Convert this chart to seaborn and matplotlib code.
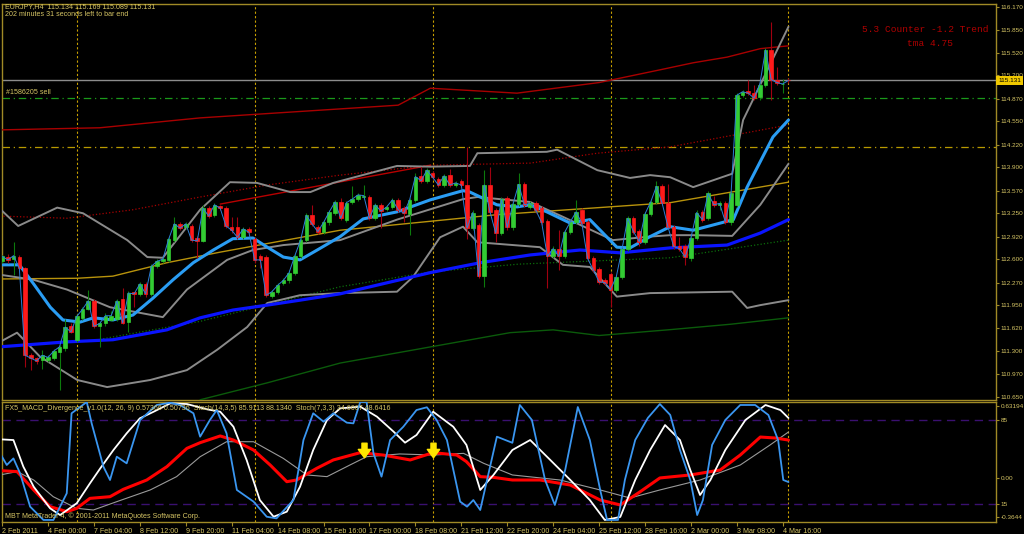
import seaborn as sns
import matplotlib.pyplot as plt
import matplotlib.path as mpath
import pandas as pd
import numpy as np

# EURJPY H4, bar 0 = 2 Feb 16:00, bar 137 = 4 Mar 20:00 (current bar)
bar_open = [112.58, 112.63, 112.60, 112.63, 112.47, 111.24, 111.20, 111.18, 111.18, 111.20,
            111.29, 111.34, 111.66, 111.46, 111.77, 111.90, 112.01, 111.65, 111.69, 111.74,
            111.76, 112.04, 111.71, 112.13, 112.11, 112.25, 112.11, 112.50, 112.57, 112.59,
            112.87, 113.10, 113.05, 113.07, 112.90, 112.86, 113.32, 113.23, 113.35, 113.32,
            113.06, 113.05, 112.91, 113.03, 112.88, 112.64, 112.63, 112.08, 112.14, 112.26,
            112.30, 112.41, 112.65, 112.87, 113.22, 113.05, 112.99, 113.12, 113.25, 113.41,
            113.16, 113.41, 113.45, 113.48, 113.48, 113.19, 113.37, 113.31, 113.34, 113.44,
            113.32, 113.24, 113.44, 113.78, 113.71, 113.82, 113.74, 113.65, 113.79, 113.65,
            113.70, 113.65, 113.04, 113.08, 112.36, 113.65, 113.30, 112.97, 113.46, 113.05,
            113.38, 113.66, 113.34, 113.39, 113.32, 113.14, 112.64, 112.75, 112.64, 112.98,
            113.13, 113.30, 113.13, 112.62, 112.46, 112.31, 112.39, 112.17, 112.35, 112.74,
            113.18, 113.00, 112.85, 113.24, 113.41, 113.63, 113.39, 113.06, 112.79, 112.78,
            112.61, 112.90, 113.27, 113.18, 113.42, 113.37, 113.39, 113.12, 113.37, 114.92,
            114.98, 114.95, 114.89, 115.07, 115.56, 115.14, 115.08, 115.134]
bar_high = [112.66, 112.68, 112.85, 112.66, 112.49, 111.27, 111.22, 111.31, 111.24, 111.33,
            111.38, 111.75, 111.69, 111.83, 111.92, 112.16, 112.04, 111.72, 111.84, 111.86,
            112.04, 112.19, 112.15, 112.14, 112.28, 112.28, 112.53, 112.60, 112.63, 112.91,
            113.20, 113.13, 113.12, 113.10, 112.93, 113.36, 113.35, 113.40, 113.37, 113.35,
            113.20, 113.20, 113.06, 113.06, 112.92, 112.67, 112.66, 112.17, 112.26, 112.33,
            112.44, 112.68, 112.90, 113.25, 113.37, 113.08, 113.15, 113.30, 113.44, 113.46,
            113.43, 113.63, 113.54, 113.65, 113.51, 113.40, 113.40, 113.37, 113.47, 113.47,
            113.35, 113.47, 113.82, 113.91, 113.89, 113.85, 113.77, 113.81, 113.87, 113.71,
            113.73, 114.19, 113.29, 113.11, 113.86, 113.91, 113.33, 113.48, 113.49, 113.41,
            113.82, 113.69, 113.42, 113.42, 113.35, 113.17, 112.78, 113.01, 113.01, 113.16,
            113.44, 113.33, 113.16, 112.65, 112.49, 112.34, 112.42, 112.38, 112.77, 113.21,
            113.21, 113.03, 113.27, 113.44, 113.70, 113.66, 113.67, 113.09, 112.92, 112.81,
            112.93, 113.29, 113.30, 113.56, 113.50, 113.42, 113.42, 113.56, 114.95, 115.00,
            115.14, 115.06, 115.10, 115.59, 115.96, 115.32, 115.15, 115.169]
bar_low = [112.55, 112.54, 112.38, 112.44, 111.08, 111.03, 111.12, 111.05, 111.15, 111.17,
           110.75, 111.30, 111.55, 111.43, 111.74, 111.88, 111.62, 111.36, 111.66, 111.72,
           111.73, 111.68, 111.57, 111.93, 112.08, 112.06, 112.08, 112.47, 112.54, 112.56,
           112.85, 113.01, 113.03, 112.85, 112.61, 112.84, 113.18, 113.20, 113.30, 113.04,
           112.97, 112.88, 112.88, 112.95, 112.55, 112.47, 112.06, 112.05, 112.11, 112.23,
           112.27, 112.38, 112.62, 112.84, 113.07, 112.96, 112.96, 113.09, 113.22, 113.15,
           113.13, 113.38, 113.42, 113.45, 113.15, 113.16, 113.04, 113.28, 113.31, 113.27,
           113.13, 112.94, 113.41, 113.68, 113.68, 113.73, 113.62, 113.62, 113.62, 113.62,
           113.62, 112.88, 113.01, 112.33, 112.21, 113.24, 112.85, 112.94, 113.02, 113.02,
           113.35, 113.34, 113.31, 113.26, 113.09, 112.19, 112.61, 112.45, 112.61, 112.95,
           113.10, 113.08, 112.58, 112.42, 112.25, 112.24, 111.93, 112.14, 112.32, 112.71,
           112.96, 112.78, 112.82, 113.21, 113.38, 113.36, 113.03, 112.75, 112.72, 112.52,
           112.58, 112.87, 113.13, 113.15, 113.34, 113.30, 113.10, 113.09, 113.34, 114.89,
           114.92, 114.85, 114.86, 115.04, 114.85, 115.07, 114.95, 115.089]
bar_close = [112.64, 112.59, 112.65, 112.47, 111.24, 111.20, 111.16, 111.24, 111.21, 111.30,
             111.36, 111.64, 111.57, 111.79, 111.89, 112.01, 111.65, 111.69, 111.80, 111.80,
             112.01, 111.70, 112.12, 112.11, 112.25, 112.11, 112.50, 112.57, 112.60, 112.88,
             113.10, 113.04, 113.10, 112.87, 112.86, 113.32, 113.21, 113.37, 113.32, 113.07,
             113.01, 112.91, 113.03, 112.98, 112.59, 112.59, 112.09, 112.14, 112.23, 112.30,
             112.41, 112.65, 112.87, 113.22, 113.10, 112.99, 113.12, 113.27, 113.41, 113.18,
             113.40, 113.45, 113.51, 113.50, 113.18, 113.37, 113.28, 113.34, 113.44, 113.30,
             113.25, 113.44, 113.77, 113.71, 113.86, 113.76, 113.65, 113.78, 113.65, 113.68,
             113.65, 113.04, 113.26, 112.36, 113.65, 113.27, 112.97, 113.45, 113.05, 113.38,
             113.66, 113.37, 113.39, 113.29, 113.12, 112.64, 112.75, 112.64, 112.98, 113.13,
             113.27, 113.11, 112.61, 112.45, 112.28, 112.27, 112.17, 112.35, 112.74, 113.18,
             112.99, 112.85, 113.24, 113.41, 113.63, 113.39, 113.06, 112.78, 112.75, 112.63,
             112.90, 113.26, 113.16, 113.53, 113.37, 113.39, 113.13, 113.53, 114.92, 114.97,
             114.95, 114.88, 115.07, 115.56, 115.14, 115.10, 115.08, 115.131]

# overlay lines: (bar, price) vertices
fast_ma_bar = [0, 3, 5.4, 8.4, 10.6, 13.6, 15.9, 19.3, 22.8, 26.3, 29.8, 33.3, 36.8, 40.2, 43.7,
               46.2, 49, 51.9, 54.9, 58.9, 62.9, 68.8, 74.6, 80.3, 81.5, 86.2, 89.7, 92, 94.9, 99,
               102.4, 107.1, 109.4, 112.9, 116.4, 120.4, 127.4, 129.8, 134.3, 137]
fast_ma_val = [112.52, 112.52, 112.26, 111.92, 111.74, 111.71, 111.77, 111.74, 111.81, 112.05,
               112.31, 112.55, 112.73, 112.89, 112.90, 112.77, 112.63, 112.59, 112.73, 112.92,
               113.17, 113.27, 113.44, 113.57, 113.55, 113.37, 113.34, 113.37, 113.27, 113.11,
               113.16, 112.77, 112.76, 112.92, 113.06, 113.01, 113.16, 113.62, 114.33, 114.57]
slow_ma_bar = [-0.35, 11.3, 19.3, 28.7, 34.5, 40.2, 46.2, 51.9, 58.9, 74.6, 83.3, 92, 100.7,
               107.7, 116.4, 126.3, 132.1, 137]
slow_ma_val = [111.36, 111.43, 111.46, 111.60, 111.77, 111.88, 111.95, 112.02, 112.11, 112.41,
               112.55, 112.66, 112.73, 112.69, 112.76, 112.80, 112.97, 113.16]
bb_up_bar = [-0.35, 2.8, 9.6, 14.1, 21.8, 25.3, 28, 34.5, 39.7, 44.4, 50.2, 53.7, 57.7, 68.8,
             74.6, 81.5, 82.8, 94.9, 96.7, 103.7, 109.4, 112.9, 116.4, 120.4, 127.2, 129.1, 137]
bb_up_val = [113.31, 113.07, 113.33, 113.25, 112.87, 112.63, 112.62, 113.30, 113.69, 113.68,
             113.55, 113.55, 113.68, 113.92, 113.91, 113.92, 114.10, 114.12, 114.15, 113.86,
             113.75, 113.79, 113.76, 113.62, 113.81, 114.57, 115.89]
bb_mid_bar = [-0.35, 5.4, 11.3, 18.8, 28, 32.2, 39.2, 43.7, 49, 58.9, 68.8, 80.3, 82.8, 92,
              97.7, 106.4, 112.9, 116.4, 120.4, 127.2, 132.1, 137]
bb_mid_val = [112.38, 112.31, 112.17, 111.92, 111.78, 112.17, 112.59, 112.73, 112.80, 112.87,
              113.16, 113.45, 113.48, 113.41, 113.20, 112.87, 112.92, 112.94, 112.94, 112.93,
              113.37, 113.95]
bb_low_bar = [-0.35, 2.6, 6.6, 13.1, 18.3, 25.8, 32.2, 37.5, 42.7, 46.2, 51.9, 58.9, 68.8, 71.6,
              76.3, 80.3, 82.8, 93.7, 97.7, 102.4, 107.1, 112.9, 127.2, 129.8, 132.1, 137]
bb_low_val = [111.43, 111.56, 111.22, 110.89, 110.79, 110.89, 111.03, 111.32, 111.64, 111.98,
              112.09, 112.12, 112.14, 112.35, 112.91, 113.06, 112.84, 112.77, 112.52, 112.49,
              112.07, 112.12, 112.14, 111.91, 111.95, 112.02]
tma_mid_bar = [-0.35, 13.1, 19.3, 28.7, 38, 58.9, 86.2, 116.4, 137]
tma_mid_val = [112.32, 112.33, 112.36, 112.55, 112.70, 113.01, 113.23, 113.40, 113.69]
tma_up_bar = [-0.35, 17, 34.5, 69, 74.6, 89.7, 104, 114.6, 120.4, 126.3, 132.1, 137]
tma_up_val = [114.43, 114.46, 114.60, 114.78, 115.02, 114.95, 115.10, 115.28, 115.38, 115.46,
              115.58, 115.62]
tma_in_up_bar = [-0.35, 11.3, 22.8, 34.5, 46.2, 58.9, 74.6, 92, 103.7, 116.4, 137]
tma_in_up_val = [113.21, 113.18, 113.30, 113.48, 113.65, 113.79, 113.93, 113.96, 114.10, 114.19,
                 114.50]
tma_in_low_bar = [15.9, 34.5, 58.9, 74.6, 90, 116.4, 137]
tma_in_low_val = [111.45, 111.72, 112.21, 112.42, 112.53, 112.62, 112.87]
tma_low_bar = [34.5, 46.2, 58.9, 88.5, 96, 104, 116, 127, 137]
tma_low_val = [110.61, 110.85, 111.13, 111.56, 111.60, 111.52, 111.60, 111.68, 111.77]
trend_bar = [38, 74.6]
trend_val = [113.38, 113.93]

bid_price = 115.131
order_price = 114.88
level_price = 114.19
separator_bars = [13, 44, 75, 106, 137]

# oscillator window (0..100 scale)
stoch7_bar = [-0.35, 0.81, 1.97, 3.13, 4.88, 7.2, 8.94, 11.26, 12.1, 14.75, 15.6, 17.65, 18.8,
              19.98, 21.7, 24.04, 26.94, 29.27, 31.0, 33.33, 34.5, 36.2, 37.4, 39.1, 40.9, 43.8,
              46.1, 47.8, 50.75, 52.5, 54.2, 56, 57.7, 60.05, 61.2, 62.4, 63.5, 64.7, 66.1, 67.6,
              69.9, 72.2, 74, 75.7, 77.5, 79.8, 81, 82.1, 83.3, 86.2, 88.9, 90.2, 92.3, 94.6,
              96.3, 98.1, 100.3, 102.4, 104.2, 105.4, 107.3, 108.5, 110.3, 112.5, 114.6, 116.4,
              118.1, 119.9, 121.1, 122.1, 123.7, 126, 128.6, 131.2, 133.5, 135.2, 136.1, 137]
stoch7_val = [57.2, 47.5, 53, 40.6, 12.8, 1.7, 1.7, 23.9, 90.6, 100, 82.2, 46.1, 35,
              54.4, 48.9, 85, 97.5, 99.4, 97.5, 90.6, 71.1, 85, 93.3, 73.9, 26.7, 17,
              4.4, 3, 18.3, 68.3, 90.6, 83.6, 90.6, 82.8, 82.2, 100, 100, 57.2, 37.8, 68.3,
              79.4, 93.3, 95.6, 85, 68.3, 17, 12.8, 18.3, 10, 71.1, 66, 97.5, 85, 35,
              14.2, 43.3, 95.8, 68.3, 26.7, 1.7, 1.7, 35, 68.3, 86.7, 98.3, 89.2,
              60, 35, 5.8, 18.3, 64.2, 85, 97.5, 97.5, 89.2, 68.3, 35, 33.3]
stoch14_bar = [-0.35, 1.97, 3.7, 5.5, 8.36, 10.1, 13, 15.3, 17.1, 19.4, 21.7, 24, 26.4, 29.3,
               32.2, 35.7, 38, 40.3, 42.6, 44.9, 47.3, 49.6, 51.9, 54.2, 56.6, 58.9, 62.4, 65.3,
               68.2, 70.2, 72.2, 75.1, 78.6, 80.9, 83.3, 85.6, 88.9, 92, 95.5, 99, 102.4, 105,
               107.7, 110.3, 112.9, 115.5, 118.1, 119.9, 121.6, 123.4, 126, 129.5, 133, 135.6, 137]
stoch14_val = [68.9, 68.3, 46.1, 29.4, 11.4, 5.8, 15.6, 32.2, 44.7, 60, 73.9, 86.4, 91.9, 98.9,
               98.3, 93.9, 91.9, 79.4, 51.7, 18.3, 4.4, 8.6, 29.4, 60, 85, 94.7, 96.1, 87.8,
               75.3, 66.1, 72.5, 91.9, 79.4, 64.2, 26.7, 39.2, 60, 68.3, 51.7, 35, 18.3, 1.7,
               4.2, 35, 60, 80.8, 68.3, 43.3, 22.5, 35, 60, 85, 97.5, 93.3, 86.7]
macd_bar = [-0.35, 2.6, 5.5, 8.36, 11.3, 13, 15.3, 18.8, 21.1, 25.2, 28.7, 32.2, 34.5, 38, 40.3,
            43.8, 46.7, 49.6, 51.3, 54.8, 57.7, 62.4, 66.4, 71.1, 75.1, 79.2, 80.9, 83.3, 85.6,
            88.9, 93.7, 99, 104.2, 107.7, 111.1, 114.6, 119.9, 125.1, 128.6, 132.1, 134.7, 137]
macd_val = [42.8, 42, 26.7, 12.8, 8.6, 11.4, 19.7, 21.1, 27.2, 35, 46.1, 61.4, 66.1, 71.7, 68.3,
            60, 47.5, 33.6, 35, 44.7, 51.7, 57.8, 55.8, 51.7, 57.8, 55.8, 50.3, 37.8, 37.2,
            35, 35, 30.8, 18.3, 14.2, 25, 36.7, 39.2, 43.3, 55.8, 70.8, 70, 68.3]
signal_bar = [-0.35, 2.6, 5.5, 8.9, 13, 15.9, 20, 25.8, 30.4, 34.5, 39.1, 43.8, 49, 53.1, 56.6,
              60.6, 63.5, 69.3, 75.1, 80.4, 83.9, 88.9, 97.2, 104.2, 109.4, 114.6, 121.6, 128.6,
              133.8, 137]
signal_val = [39.2, 42, 35, 21.1, 11.4, 10, 17, 26.7, 37.8, 54.4, 66.9, 66.9, 53, 39.2, 37.8,
              47.5, 54.4, 56.7, 55.8, 57.2, 48.9, 39.2, 35, 26.7, 20, 26.7, 35, 47.5, 64.2, 75]
arrow_bars = [63, 75]
arrow_levels = [60, 60]

price_ticks = [116.170, 115.850, 115.520, 115.200, 114.870, 114.550, 114.220, 113.900, 113.570,
               113.250, 112.920, 112.600, 112.270, 111.950, 111.620, 111.300, 110.970, 110.650]
osc_tick_pos = [96.7, 85, 36.7, 15, 4.2]
osc_tick_labels = ['0.63194', '85', '0.00', '15', '-0.3644']
date_bars = list(range(0, 137, 8))
date_labels = ['2 Feb 2011', '4 Feb 00:00', '7 Feb 04:00', '8 Feb 12:00', '9 Feb 20:00',
               '11 Feb 04:00', '14 Feb 08:00', '15 Feb 16:00', '17 Feb 00:00', '18 Feb 08:00',
               '21 Feb 12:00', '22 Feb 20:00', '24 Feb 04:00', '25 Feb 12:00', '28 Feb 16:00',
               '2 Mar 00:00', '3 Mar 08:00', '4 Mar 16:00']

sns.set_style('dark')
plt.rcParams['font.family'] = ['Liberation Sans Narrow', 'Liberation Sans', 'DejaVu Sans']

W, H = 1024, 534
frame = '#a08a26'
txt = '#d6c565'
FS = 5.1
FSY = 4.6
fig = plt.figure(figsize=(W / 100, H / 100), dpi=100, facecolor='black')
ax = fig.add_axes([2 / W, 1 - 400 / H, 994 / W, 396 / H])
ax2 = fig.add_axes([2 / W, 1 - 522 / H, 994 / W, 120 / H])
XL = (-0.02, 173.16)

for a in (ax, ax2):
    a.set_facecolor('black')
    a.set_xlim(*XL)
    a.grid(False)
    for s in a.spines.values():
        s.set_color(frame)
        s.set_linewidth(1.0)
    a.yaxis.tick_right()
    a.tick_params(axis='y', colors=frame, labelcolor=txt, labelsize=FSY, length=2.5,
                  width=0.8, pad=0.8)
    for b in separator_bars:
        a.axvline(b, color='#c8a000', lw=0.8, ls=(0, (2, 2)), zorder=1)

# main price window
ax.set_ylim(110.607, 116.212)
ax.set_yticks(price_ticks)
ax.set_yticklabels([f'{p:.3f}' for p in price_ticks])
ax.set_xticks([])

df = pd.DataFrame({'o': bar_open, 'h': bar_high, 'l': bar_low, 'c': bar_close})
df['bar'] = np.arange(len(df))
up = df['c'] >= df['o']

def line(axis, xs, ys, color, lw, ls='-', z=3):
    sns.lineplot(x=list(xs), y=list(ys), ax=axis, color=color, linewidth=lw, linestyle=ls,
                 sort=False, estimator=None, zorder=z)

line(ax, tma_low_bar, tma_low_val, '#0b5a0b', 1.0)
line(ax, tma_in_low_bar, tma_in_low_val, '#0b6e0b', 0.9, ':')
line(ax, tma_mid_bar, tma_mid_val, '#b8930c', 1.0)
line(ax, tma_in_up_bar, tma_in_up_val, '#a80000', 0.9, ':')
line(ax, tma_up_bar, tma_up_val, '#a80000', 1.0)
line(ax, trend_bar, trend_val, '#b80000', 1.0)
line(ax, bb_up_bar, bb_up_val, '#8a8a8a', 1.4)
line(ax, bb_mid_bar, bb_mid_val, '#8a8a8a', 1.4)
line(ax, bb_low_bar, bb_low_val, '#8a8a8a', 1.4)
line(ax, slow_ma_bar, slow_ma_val, '#0a14ff', 2.3)
line(ax, fast_ma_bar, fast_ma_val, '#2a9df4', 2.2)

ax.axhline(bid_price, color='#8c8c8c', lw=1.0, zorder=2)
ax.axhline(order_price, color='#1a9a1a', lw=0.9, ls=(0, (6, 3, 1, 3)), zorder=2)
ax.axhline(level_price, color='#b89a00', lw=0.9, ls=(0, (6, 3, 1, 3)), zorder=2)

wick_col = np.where(up, '#0c7a0c', '#a00010')
body_col = np.where(up, '#33cc33', '#ff1a1a')
ax.vlines(df['bar'], df['l'], df['h'], colors=wick_col, lw=0.8, zorder=4)
ax.bar(df['bar'], (df['c'] - df['o']).abs(), bottom=df[['o', 'c']].min(axis=1), width=0.62,
       color=body_col, edgecolor=body_col, linewidth=0.5, zorder=5)
line(ax, df['bar'], df['c'], '#2d7fd8', 0.7, z=6)

ax.text(0.7, order_price + 0.03, '#1586205 sell', color=txt, fontsize=FS, va='bottom')
ax.text(1.002, bid_price, f'{bid_price:.3f}', transform=ax.get_yaxis_transform(),
        fontsize=FSY, color='black', va='center', ha='left', zorder=20,
        bbox=dict(boxstyle='square,pad=0.3', fc='#f0c800', ec='none'), clip_on=False)

# oscillator window
ax2.set_ylim(0, 100)
ax2.set_yticks(osc_tick_pos)
ax2.set_yticklabels(osc_tick_labels)
for lv in (85, 15):
    ax2.axhline(lv, color='#3a1070', lw=1.0, ls=(0, (6, 4)), zorder=1)
line(ax2, signal_bar, signal_val, '#9a9a9a', 0.8)
line(ax2, macd_bar, macd_val, '#ff0000', 2.2)
line(ax2, stoch14_bar, stoch14_val, '#ffffff', 1.3)
line(ax2, stoch7_bar, stoch7_val, '#3a96f0', 1.3)
arrow = mpath.Path([(-0.35, 1), (0.35, 1), (0.35, 0.15), (0.85, 0.15), (0, -1), (-0.85, 0.15),
                    (-0.35, 0.15), (-0.35, 1)], closed=True)
ax2.scatter(arrow_bars, arrow_levels, marker=arrow, s=110, color='#ffe600', zorder=7)

ax2.set_xticks(date_bars)
ax2.set_xticklabels(date_labels, ha='left')
ax2.tick_params(axis='x', colors=frame, labelcolor=txt, labelsize=FS, length=3, width=0.8,
                pad=1, bottom=True)
for lab in ax2.get_xticklabels():
    lab.set_horizontalalignment('left')

for a in (ax, ax2):
    a.set_xlabel('')
    a.set_ylabel('')

fig.text(5 / W, 1 - 7 / H, 'EURJPY,H4  115.134 115.169 115.089 115.131', color=txt,
         fontsize=FS, va='center')
fig.text(5 / W, 1 - 15 / H, '202 minutes 31 seconds left to bar end', color=txt,
         fontsize=FS, va='center')
fig.text(5 / W, 1 - 408 / H,
         'FX5_MACD_Divergence_v1.0(12, 26, 9) 0.57366 0.50736  Stoch(14,3,5) 85.9113 88.1340  '
         'Stoch(7,3,3) 34.6667 48.6416', color=txt, fontsize=FS, va='center', zorder=10)
fig.text(5 / W, 1 - 516 / H, 'MBT MetaTrader 4, \u00a9 2001-2011 MetaQuotes Software Corp.',
         color=txt, fontsize=FS, va='center')
fig.text(862 / W, 1 - 30 / H, '5.3 Counter -1.2 Trend', color='#b00000', fontsize=6.8,
         family='Liberation Mono', va='center')
fig.text(907 / W, 1 - 44 / H, 'tma 4.75', color='#b00000', fontsize=6.8,
         family='Liberation Mono', va='center')

fig.savefig('out.png', dpi=100, facecolor='black')
